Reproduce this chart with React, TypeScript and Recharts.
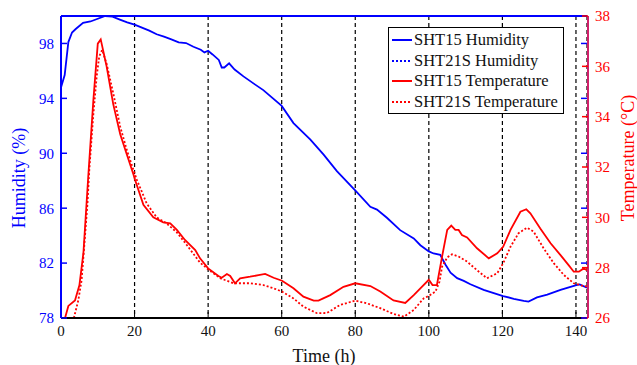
import React from 'react';
import {
  ComposedChart, Line, XAxis, YAxis, CartesianGrid, ReferenceLine, Legend
} from 'recharts';

const BLUE = '#0000ff';
const RED = '#ff0000';
const FONT = '"Liberation Serif", "Times New Roman", serif';

// x ticks (hours) and y ticks
const timeTicks = [0, 20, 40, 60, 80, 100, 120, 140];
const humTicks = [78, 82, 86, 90, 94, 98];
const tempTicks = [26, 28, 30, 32, 34, 36, 38];

// SHT15 humidity (%)
const sht15HumT = [0, 1, 2, 3, 4, 6, 8, 10, 12, 14, 16, 18, 20, 22, 24, 26, 28, 30, 32, 34, 36, 38, 39, 40,
  41.2, 42.9, 43.7, 44.4, 45.7, 47.2, 49.6, 52.8, 55, 60, 63.2, 67.8, 71.4, 75, 80.3, 84.1, 85.9, 88.6,
  92.2, 95.9, 97.7, 100, 101.3, 103.1, 104.5, 105.9, 107.7, 109.5, 111.3, 114.9, 120.2, 123.1, 125.8,
  127.1, 129.4, 132.2, 135.8, 140.1, 141, 143];
const sht15Hum = [94.8, 95.7, 98.1, 98.8, 99.05, 99.5, 99.6, 99.8, 100, 99.95, 99.74, 99.54, 99.37, 99.15,
  98.93, 98.67, 98.5, 98.3, 98.08, 98.03, 97.76, 97.54, 97.35, 97.47, 97.2, 96.8, 96.25, 96.25, 96.55,
  96.1, 95.6, 95.0, 94.6, 93.45, 92.2, 91.0, 89.9, 88.7, 87.2, 86.1, 85.9, 85.3, 84.4, 83.8, 83.3, 82.85,
  82.7, 82.6, 81.9, 81.3, 80.9, 80.7, 80.46, 80.05, 79.6, 79.4, 79.25, 79.2, 79.5, 79.7, 80.05, 80.4,
  80.45, 80.2];

// SHT21S humidity (%) - saturated, sits on the top border
const sht21HumT = [0, 143];
const sht21Hum = [100, 100];

// SHT15 temperature (°C)
const sht15TempT = [1.1, 2, 3.8, 5, 6.1, 7.4, 8.8, 10, 10.8, 12.4, 14.2, 16.1, 17.9, 19.7, 20.1, 22.4, 25.1,
  27.8, 29.7, 31.5, 33.7, 36.5, 37.8, 40, 42.8, 43.7, 45.1, 46, 47.3, 48.7, 51.4, 53.7, 55.5, 57.8, 60.1,
  63.2, 65.9, 68.7, 70, 73.2, 76.8, 80, 84.1, 86.8, 90.4, 93.6, 95.9, 98.1, 100, 101, 102.2, 103.6, 105,
  106.1, 107.2, 108.1, 109, 110.4, 113.1, 116.3, 118.6, 120.2, 122.2, 124.9, 126.5, 127.6, 130.3, 133.1,
  135.8, 138, 139.4, 140.8, 142.1, 143];
const sht15Temp = [26.0, 26.48, 26.7, 27.3, 28.6, 31.6, 34.66, 36.9, 37.07, 36.0, 34.5, 33.3, 32.5, 31.7,
  31.5, 30.5, 30.0, 29.8, 29.76, 29.5, 29.1, 28.7, 28.37, 27.97, 27.67, 27.6, 27.75, 27.67, 27.38, 27.58,
  27.64, 27.7, 27.75, 27.6, 27.48, 27.18, 26.85, 26.69, 26.69, 26.91, 27.24, 27.38, 27.27, 27.05, 26.7,
  26.6, 26.91, 27.24, 27.52, 27.31, 27.31, 28.44, 29.5, 29.67, 29.5, 29.5, 29.3, 29.2, 28.77, 28.37, 28.57,
  28.83, 29.5, 30.22, 30.32, 30.16, 29.56, 28.97, 28.5, 28.1, 27.84, 27.84, 27.97, 27.9];

// SHT21S temperature (°C)
const sht21TempT = [3.5, 4.7, 5.6, 6.5, 7.2, 7.7, 8.8, 9.7, 10.4, 11.2, 12.4, 14.2, 16.1, 17.9, 19.7, 20.6,
  23.3, 26, 28.7, 31.5, 34.2, 37.8, 40.3, 43.3, 46.9, 51.4, 55, 57.8, 60.1, 63.2, 65.9, 69.6, 72.3, 75.9,
  80, 83.2, 86.8, 90.4, 93.2, 95.9, 98.6, 100, 101.8, 102.9, 103.6, 105, 106.3, 108.1, 110.4, 113.1, 115.8,
  118.6, 120.2, 122.2, 124.4, 126.7, 128.5, 131.2, 134, 136.7, 139.4, 142.1, 143];
const sht21Temp = [26.0, 26.7, 27.5, 29.2, 30.55, 31.9, 34.1, 35.6, 36.4, 36.65, 36.1, 34.93, 33.6, 32.67,
  31.88, 31.5, 30.55, 30.0, 29.76, 29.4, 28.9, 28.2, 27.9, 27.58, 27.38, 27.38, 27.31, 27.18, 27.05, 26.78,
  26.45, 26.19, 26.2, 26.52, 26.69, 26.58, 26.39, 26.16, 26.05, 26.32, 26.78, 26.88, 27.05, 27.44, 28.04,
  28.41, 28.53, 28.44, 28.24, 27.9, 27.58, 27.78, 28.17, 28.83, 29.37, 29.59, 29.43, 28.77, 28.17, 27.71,
  27.38, 27.27, 27.25];

const zip = (ts: number[], vs: number[]) => ts.map((t, i) => ({ t, v: vs[i] }));

const legendItems = [
  { name: 'SHT15 Humidity', color: BLUE, dash: undefined },
  { name: 'SHT21S Humidity', color: BLUE, dash: '2 2' },
  { name: 'SHT15 Temperature', color: RED, dash: undefined },
  { name: 'SHT21S Temperature', color: RED, dash: '2 2' },
];

const LegendBox = () => (
  <div style={{
    width: 174, height: 83, border: '1.5px solid #000', background: '#fff',
    fontFamily: FONT, fontSize: 16.5, color: '#111', paddingTop: 2, boxSizing: 'content-box'
  }}>
    {legendItems.map((it) => (
      <div key={it.name} style={{ display: 'flex', alignItems: 'center', height: 20.5, whiteSpace: 'nowrap' }}>
        <svg width={23} height={6} style={{ marginLeft: 2 }}>
          <line x1={1} y1={3} x2={21} y2={3} stroke={it.color} strokeWidth={2} strokeDasharray={it.dash} />
        </svg>
        <span>{it.name}</span>
      </div>
    ))}
  </div>
);

const HumLabel = () => (
  <text transform="translate(25,178) rotate(-90)" textAnchor="middle" fill={BLUE}
    fontSize={18} fontFamily={FONT}>Humidity (%)</text>
);

const TempLabel = () => (
  <text transform="translate(634,158) rotate(-90)" textAnchor="middle" fill={RED}
    fontSize={18} fontFamily={FONT}>Temperature (°C)</text>
);

// humidity ticks mirrored on the right edge, pointing inward
const RightHumTick = (props: any) => (
  <line x1={props.x} y1={props.y} x2={props.x + 6} y2={props.y} stroke={BLUE} strokeWidth={1.5} />
);

export default function App() {
  return (
    <div style={{ position: 'absolute', left: 0, top: 0, background: '#fff' }}>
      <ComposedChart width={637} height={365} margin={{ top: 16, right: 0, bottom: 0, left: 0 }}>
        <CartesianGrid yAxisId="h" horizontal={false} stroke="#000" strokeWidth={1.2} strokeDasharray="4 3" />
        <XAxis
          dataKey="t" type="number" domain={[0, 143]} ticks={timeTicks} allowDataOverflow
          height={47} tickSize={-6} tickMargin={13}
          axisLine={{ stroke: '#000', strokeWidth: 2 }} tickLine={{ stroke: '#000' }}
          tick={{ fill: '#111', fontSize: 15, fontFamily: FONT }}
          label={{ value: 'Time (h)', position: 'insideBottom', offset: 3, fill: '#111', fontSize: 18, fontFamily: FONT }}
        />
        <YAxis
          yAxisId="h" orientation="left" width={61} domain={[78, 100]} ticks={humTicks} allowDataOverflow
          tickSize={-6} tickMargin={13}
          axisLine={{ stroke: BLUE, strokeWidth: 2 }} tickLine={{ stroke: BLUE, strokeWidth: 1.5 }}
          tick={{ fill: BLUE, fontSize: 15, fontFamily: FONT }}
          label={<HumLabel />}
        />
        <YAxis
          yAxisId="a" orientation="right" width={1} domain={[78, 100]} ticks={humTicks} allowDataOverflow
          tickSize={-6} tickMargin={0} interval={0} axisLine={false} tickLine={false} tick={RightHumTick}
        />
        <YAxis
          yAxisId="c" orientation="right" width={49} domain={[26, 38]} ticks={tempTicks} allowDataOverflow
          tickSize={-6} tickMargin={13}
          axisLine={{ stroke: '#d0206a', strokeWidth: 2 }} tickLine={{ stroke: RED, strokeWidth: 1.5 }}
          tick={{ fill: RED, fontSize: 15, fontFamily: FONT }}
          label={<TempLabel />}
        />
        <ReferenceLine yAxisId="h" y={100} stroke={BLUE} strokeWidth={2} ifOverflow="visible" />

        <Line yAxisId="h" data={zip(sht15HumT, sht15Hum)} dataKey="v" name="SHT15 Humidity"
          stroke={BLUE} strokeWidth={1.8} dot={false} isAnimationActive={false} />
        <Line yAxisId="a" data={zip(sht21HumT, sht21Hum)} dataKey="v" name="SHT21S Humidity"
          stroke={BLUE} strokeWidth={1.8} strokeDasharray="2 2" dot={false} isAnimationActive={false} />
        <Line yAxisId="c" data={zip(sht15TempT, sht15Temp)} dataKey="v" name="SHT15 Temperature"
          stroke={RED} strokeWidth={1.8} dot={false} isAnimationActive={false} />
        <Line yAxisId="c" data={zip(sht21TempT, sht21Temp)} dataKey="v" name="SHT21S Temperature"
          stroke={RED} strokeWidth={1.8} strokeDasharray="2 2" dot={false} isAnimationActive={false} />

        <Legend layout="vertical" align="center" verticalAlign="middle" content={<LegendBox />}
          wrapperStyle={{ position: 'absolute', left: 388, top: 27, width: 'auto' }} />
      </ComposedChart>
    </div>
  );
}
